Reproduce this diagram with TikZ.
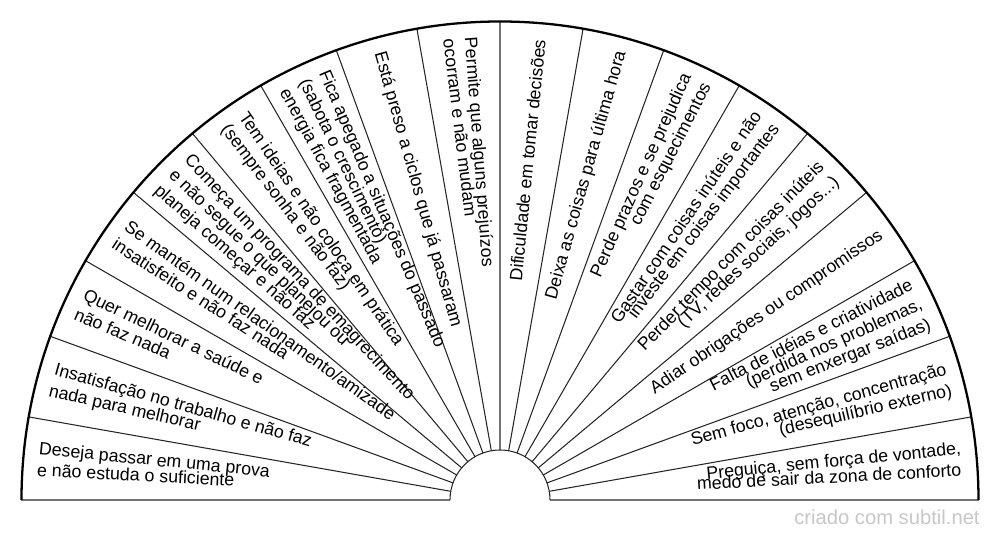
\documentclass[tikz,border=0pt]{standalone}
\usepackage{fontspec}
\setmainfont{Liberation Sans}
\usetikzlibrary{calc}
\def\lline(#1:#2)[#3]#4{\node[lbl, anchor=base west, rotate=#1-180] (#3) at (#1:#2) {#4};}
\def\rline(#1:#2)[#3]#4{\node[lbl, anchor=base east, rotate=#1] (#3) at (#1:#2) {#4};}

\begin{document}
\begin{tikzpicture}[lbl/.style={inner sep=0pt, font=\fontsize{10.1}{12}\selectfont},
	spoke/.style={line width=0.6pt, color=black!85},
	axis/.style={line width=1.2pt, color=black!55}]
			%%%%% START %%%%%
			\useasboundingbox (-10, -0.8) rectangle (10, 10);
			
			\draw[axis] (-9.57, 0) -- (-1, 0);
			\draw[axis] (1, 0) -- (9.57, 0);
			\draw[axis] (90:1) -- (90:9.57);
			
			\draw[spoke] (10:1) -- (10:9.57);
			\draw[spoke] (20:1) -- (20:9.57);
			\draw[spoke] (30:1) -- (30:9.57);
			\draw[spoke] (40:1) -- (40:9.57);
			\draw[spoke] (50:1) -- (50:9.57);
			\draw[spoke] (60:1) -- (60:9.57);
			\draw[spoke] (70:1) -- (70:9.57);
			\draw[spoke] (80:1) -- (80:9.57);
			\draw[spoke] (100:1) -- (100:9.57);
			\draw[spoke] (110:1) -- (110:9.57);
			\draw[spoke] (120:1) -- (120:9.57);
			\draw[spoke] (130:1) -- (130:9.57);
			\draw[spoke] (140:1) -- (140:9.57);
			\draw[spoke] (150:1) -- (150:9.57);
			\draw[spoke] (160:1) -- (160:9.57);
			\draw[spoke] (170:1) -- (170:9.57);
			
			\draw[spoke] (1, 0) arc (0:180:1);
			\draw[line width=1.3pt] (9.57, 0) arc (0:180:9.57);
			
			% left half, read from the rim inwards
			\lline(174.35:9.28)[prova1]{Deseja passar em uma prova}
			\lline(177.05:9.28)[prova2]{e não estuda o suficiente}
			\lline(164.35:9.28)[trabalho1]{Insatisfação no trabalho e não faz}
			\lline(167.05:9.28)[trabalho2]{nada para melhorar}
			\lline(154.35:9.28)[saude1]{Quer melhorar a saúde e}
			\lline(157.05:9.28)[saude2]{não faz nada}
			\lline(144.35:9.28)[relacao1]{Se mantém num relacionamento/amizade}
			\lline(147.05:9.28)[relacao2]{insatisfeito e não faz nada}
			\lline(133:9.28)[dieta1]{Começa um programa de emagrecimento}
			\lline(135.7:9.28)[dieta2]{e não segue o que planejou ou}
			\lline(138.4:9.28)[dieta3]{planeja começar e não faz}
			\lline(124.35:9.28)[ideias1]{Tem ideias e não coloca em prática}
			\lline(127.05:9.28)[ideias2]{(sempre sonha e não faz)}
			\lline(113:9.28)[passado1]{Fica apegado a situações do passado}
			\lline(115.7:9.28)[passado2]{(sabota o crescimento)}
			\lline(118.4:9.28)[passado3]{energia fica fragmentada}
			\lline(105.7:9.28)[ciclos]{Está preso a ciclos que já passaram}
			\lline(94.35:9.28)[prejuizo1]{Permite que alguns prejuízos}
			\lline(97.05:9.28)[prejuizo2]{ocorram e não mudam}
			
			% right half, read from the centre outwards
			\rline(84.3:9.25)[decisoes]{Dificuldade em tomar decisões}
			\rline(74.3:9.3)[ultimahora]{Deixa as coisas para última hora}
			\rline(65.65:9.3)[prazos1]{Perde prazos e se prejudica}
			\rline(62.95:9.3)[prazos2]{com esquecimentos}
			\rline(55.65:9.3)[gastos1]{Gastar com coisas inúteis e não}
			\rline(52.95:9.3)[gastos2]{investe em coisas importantes}
			\rline(45.65:9.3)[tempo1]{Perder tempo com coisas inúteis}
			\rline(42.95:9.3)[tempo2]{(TV, redes sociais, jogos...)}
			\rline(34.3:9.3)[adiar]{Adiar obrigações ou compromissos}
			\rline(27:9.3)[criativ1]{Falta de idéias e criatividade}
			\rline(24.3:9.3)[criativ2]{(perdida nos problemas,}
			\rline(21.6:9.3)[criativ3]{sem enxergar saídas)}
			\rline(15.65:9.3)[foco1]{Sem foco, atenção, concentração}
			\rline(12.95:9.3)[foco2]{(desequilíbrio externo)}
			\rline(5.65:9.28)[preguica1]{Preguiça, sem força de vontade,}
			\rline(2.95:9.25)[preguica2]{medo de sair da zona de conforto}
			
			\node[anchor=base east, inner sep=0pt, color=black!22, font=\fontsize{11.5}{13}\selectfont] (marca) at (9.6, -0.5) {criado com subtil.net};
			%%%%% END %%%%%
\end{tikzpicture}
\end{document}
